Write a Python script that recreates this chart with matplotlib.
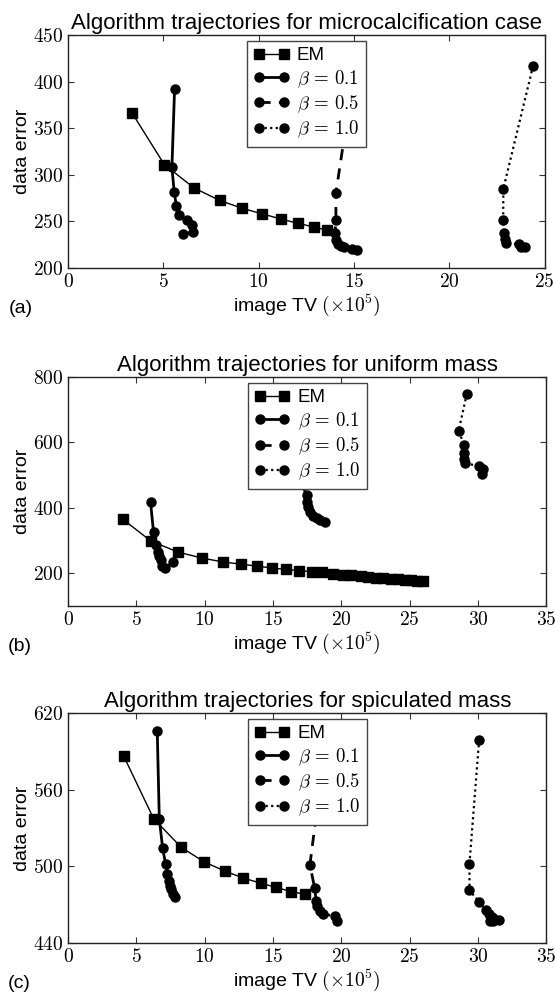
import numpy as np
import matplotlib
matplotlib.use('Agg')
import matplotlib.pyplot as plt
from matplotlib.ticker import FuncFormatter

plt.rcParams['font.family'] = ['Liberation Sans', 'DejaVu Sans']
plt.rcParams['mathtext.fontset'] = 'cm'

# ---- (a) microcalcification case ----
a_em_x = [3.37, 5.05, 6.60, 7.95, 9.14, 10.20, 11.17, 12.05, 12.88, 13.60]
a_em_y = [366, 311, 286, 272.5, 264, 258, 252.5, 248, 244, 240.5]
a_b01_x = [5.59, 5.45, 5.57, 5.68, 5.80, 6.24, 6.48, 6.57, 6.04]
a_b01_y = [392, 308, 281.5, 267, 257, 251, 246, 238.5, 236.5]
a_b05_x = [15.0, 14.05, 14.05, 14.00, 14.05, 14.17, 14.31, 14.48, 14.87, 15.15]
a_b05_y = [410, 280.5, 251.4, 238, 230.5, 226, 224, 222.3, 220.8, 219.7]
a_b10_x = [24.39, 22.83, 22.82, 22.88, 22.92, 22.99, 23.64, 23.78, 23.95]
a_b10_y = [417, 285, 251.4, 237.7, 231, 226.6, 225.5, 223, 222.3]

# ---- (b) uniform mass ----
b_em_x = [3.99, 6.07, 8.05, 9.81, 11.32, 12.64, 13.84, 14.94, 15.97, 16.90, 17.83,
          18.60, 19.37, 20.10, 20.74, 21.40, 21.96, 22.52, 23.06, 23.65, 24.16,
          24.67, 25.09, 25.53, 25.95]
b_em_y = [366, 298.5, 265, 246.5, 235, 228, 222, 216, 212, 208, 205,
          203, 198.5, 195.5, 193.5, 190.5, 188.5, 186.5, 185.5, 183.5, 182.5,
          180, 179, 178, 177]
b_b01_x = [6.04, 6.26, 6.43, 6.58, 6.68, 6.77, 6.90, 7.09, 7.70]
b_b01_y = [417, 325, 288, 266, 252.6, 240, 222, 217, 234]
b_b05_x = [16.5, 16.9, 17.07, 17.46, 17.50, 17.58, 17.70, 17.92, 18.20, 18.46, 18.78]
b_b05_y = [640, 520, 475, 440, 418.7, 402.5, 388, 376, 369, 363, 357.5]
b_b10_x = [29.18, 28.57, 29.00, 28.98, 29.00, 29.05, 30.10, 30.35, 30.30]
b_b10_y = [749, 634, 593, 568.5, 550, 536, 528, 519.6, 503]

# ---- (c) spiculated mass ----
c_em_x = [4.09, 6.26, 8.29, 9.98, 11.47, 12.84, 14.11, 15.24, 16.29, 17.31]
c_em_y = [586, 537.4, 514.8, 503.4, 496.3, 490.8, 486.8, 483.5, 480.3, 478.2]
c_b01_x = [6.53, 6.68, 6.92, 7.14, 7.26, 7.39, 7.48, 7.56, 7.65, 7.83]
c_b01_y = [606, 537.4, 514.5, 501.9, 494.3, 488.7, 485, 482, 478.7, 475.8]
c_b05_x = [18.7, 17.70, 18.05, 18.15, 18.25, 18.44, 18.68, 19.50, 19.70]
c_b05_y = [585, 501.3, 482.7, 473.2, 469.3, 465.3, 462.7, 461, 457.6]
c_b10_x = [30.08, 29.37, 29.37, 30.08, 30.55, 30.80, 31.03, 31.20, 30.89, 31.13, 31.50]
c_b10_y = [599.2, 501.9, 481.1, 472.4, 466, 462.7, 460.6, 458.8, 457.2, 457.2, 458.2]

titles = ['Algorithm trajectories for microcalcification case',
          'Algorithm trajectories for uniform mass',
          'Algorithm trajectories for spiculated mass']
panel_tags = ['(a)', '(b)', '(c)']
xlims = [(0, 25), (0, 35), (0, 35)]
ylims = [(200, 450), (100, 800), (440, 620)]
yticks = [np.arange(200, 451, 50), np.arange(200, 801, 200), np.arange(440, 621, 60)]

panels = [
    (a_em_x, a_em_y, a_b01_x, a_b01_y, a_b05_x, a_b05_y, a_b10_x, a_b10_y),
    (b_em_x, b_em_y, b_b01_x, b_b01_y, b_b05_x, b_b05_y, b_b10_x, b_b10_y),
    (c_em_x, c_em_y, c_b01_x, c_b01_y, c_b05_x, c_b05_y, c_b10_x, c_b10_y),
]

fig = plt.figure(figsize=(5.55, 9.94), dpi=100)
axes_rects = [[0.1225, 0.7304, 0.859, 0.2344],
              [0.1225, 0.3903, 0.862, 0.2304],
              [0.1225, 0.0513, 0.862, 0.2314]]

texfmt = FuncFormatter(lambda v, p: '$%g$' % v)

for i, (rect, data) in enumerate(zip(axes_rects, panels)):
    ax = fig.add_axes(rect)
    emx, emy, x1, y1, x5, y5, x10, y10 = data
    ax.plot(emx, emy, color='black', lw=1, marker='s', ms=6.5, label='EM')
    ax.plot(x1, y1, color='black', lw=2, ls='-', marker='o', ms=6.5,
            label=r'$\beta\,=\,0.1$')
    ax.plot(x5, y5, color='black', lw=2, ls=(0, (4, 3)), marker='o', ms=6.5,
            label=r'$\beta\,=\,0.5$')
    ax.plot(x10, y10, color='black', lw=1.6, ls=(0, (1, 1.5)), marker='o', ms=6.5,
            label=r'$\beta\,=\,1.0$')

    ax.set_xlim(*xlims[i])
    ax.set_ylim(*ylims[i])
    ax.set_xticks(np.arange(xlims[i][0], xlims[i][1] + 1, 5))
    ax.set_yticks(yticks[i])
    ax.xaxis.set_major_formatter(texfmt)
    ax.yaxis.set_major_formatter(texfmt)
    ax.tick_params(direction='in', top=True, right=True, length=4,
                   labelsize=14, color='#333333')
    for s in ax.spines.values():
        s.set_linewidth(1.0)
        s.set_color('#222222')

    ax.set_title(titles[i], fontsize=16, pad=4)
    ax.set_xlabel(r'image TV $(\times 10^5)$', fontsize=14, labelpad=1)
    ax.set_ylabel('data error', fontsize=14, labelpad=1)
    ax.text(-0.125, -0.175, panel_tags[i], transform=ax.transAxes,
            fontsize=14, ha='left', va='center')

    leg = ax.legend(loc='upper center', numpoints=2, fontsize=13.5,
                    fancybox=False, framealpha=1, edgecolor='#444444',
                    handlelength=1.9, handletextpad=0.4, labelspacing=0.2,
                    borderpad=0.35, borderaxespad=0.3)
    leg.get_frame().set_linewidth(1.0)

fig.savefig('out.png', dpi=100)
